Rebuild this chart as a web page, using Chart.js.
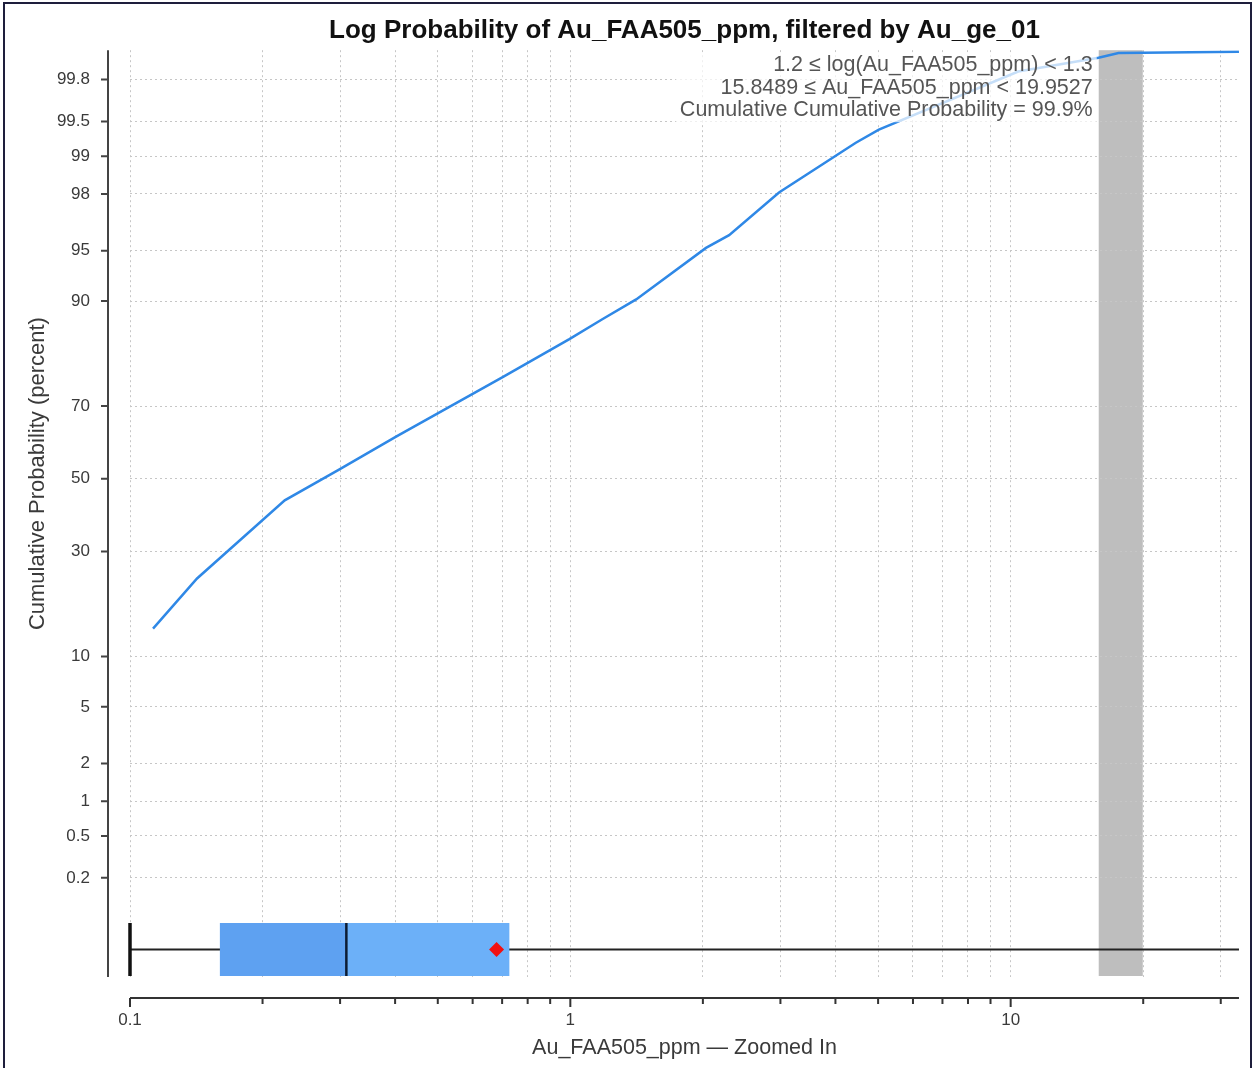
<!DOCTYPE html>
<html>
<head>
<meta charset="utf-8">
<title>Log Probability of Au_FAA505_ppm</title>
<script src="https://cdn.jsdelivr.net/npm/chart.js@4.4.1/dist/chart.umd.min.js"></script>
<style>
  html, body { margin: 0; padding: 0; background: #fff; }
  #wrap { position: relative; width: 1254px; height: 1068px; overflow: hidden; }
  #frame { position: absolute; left: 3px; top: 2px; width: 1245px; height: 1090px; border: 2px solid #1e1e3c; pointer-events: none; }
</style>
</head>
<body>
<div id="wrap">
  <canvas id="chart" width="1254" height="1068"></canvas>
  <div id="frame"></div>
</div>
<script>
// cumulative distribution of Au_FAA505_ppm (ppm vs cumulative percent)
const cdfPpm = [0.1128, 0.142, 0.2246, 0.299, 0.403, 0.702, 0.995, 1.182, 1.411, 2.033, 2.294, 2.978, 4.45, 5.02, 10.4, 15.83, 17.58, 33];
const cdfPercent = [14.0, 23.6, 43.8, 52.7, 62.0, 76.8, 84.3, 87.5, 90.2, 95.2, 96.05, 98.05, 99.23, 99.41, 99.834, 99.88, 99.893, 99.896];

// probability axis labels (percent)
const probTicks = [0.2, 0.5, 1, 2, 5, 10, 30, 50, 70, 90, 95, 98, 99, 99.5, 99.8];
const xTickLabels = [0.1, 1, 10];

// box plot summary (ppm)
const boxStats = { low: 0.1, q1: 0.16, median: 0.31, q3: 0.727, high: 40 };
const boxMean = 0.68;

// highlighted bin
const binLog = [1.2, 1.3];
const binPpm = [15.8489, 19.9527];
const binCumPercent = 99.9;

const FONT = '"Liberation Sans", Arial, sans-serif';
const TEXT = '#3a3a3a';
Chart.defaults.font.family = FONT;

// inverse of the standard normal CDF (Acklam)
function probit(p) {
  const a = [-3.969683028665376e+01, 2.209460984245205e+02, -2.759285104469687e+02, 1.383577518672690e+02, -3.066479806614716e+01, 2.506628277459239e+00];
  const b = [-5.447609879822406e+01, 1.615858368580409e+02, -1.556989798598866e+02, 6.680131188771972e+01, -1.328068155288572e+01];
  const c = [-7.784894002430293e-03, -3.223964580411365e-01, -2.400758277161838e+00, -2.549732539343734e+00, 4.374664141464968e+00, 2.938163982698783e+00];
  const d = [7.784695709041462e-03, 3.224671290700398e-01, 2.445134137142996e+00, 3.754408661907416e+00];
  const plow = 0.02425;
  let q, r;
  if (p < plow) {
    q = Math.sqrt(-2 * Math.log(p));
    return (((((c[0]*q+c[1])*q+c[2])*q+c[3])*q+c[4])*q+c[5]) / ((((d[0]*q+d[1])*q+d[2])*q+d[3])*q+1);
  }
  if (p > 1 - plow) {
    q = Math.sqrt(-2 * Math.log(1 - p));
    return -(((((c[0]*q+c[1])*q+c[2])*q+c[3])*q+c[4])*q+c[5]) / ((((d[0]*q+d[1])*q+d[2])*q+d[3])*q+1);
  }
  q = p - 0.5; r = q * q;
  return (((((a[0]*r+a[1])*r+a[2])*r+a[3])*r+a[4])*r+a[5])*q / (((((b[0]*r+b[1])*r+b[2])*r+b[3])*r+b[4])*r+1);
}

// log grid positions 1..9 per decade
const xGrid = [];
for (let e = -1; e <= 1; e++) {
  for (let k = 1; k <= 9; k++) {
    const v = parseFloat((k * Math.pow(10, e)).toPrecision(2));
    if (v <= 33) xGrid.push(v);
  }
}

const points = cdfPpm.map((x, i) => ({ x: x, y: probit(cdfPercent[i] / 100) }));

// grey bin band behind everything
const binBand = {
  id: 'binBand',
  beforeDraw(chart) {
    const { ctx, chartArea, scales } = chart;
    const x0 = scales.x.getPixelForValue(binPpm[0]);
    const x1 = scales.x.getPixelForValue(binPpm[1]);
    ctx.save();
    ctx.fillStyle = '#bebebe';
    ctx.fillRect(x0, chartArea.top, x1 - x0, chartArea.bottom - chartArea.top - 1);
    ctx.restore();
  }
};

// bin readout over the curve
const binLabel = {
  id: 'binLabel',
  afterDatasetsDraw(chart) {
    const { ctx, chartArea, scales } = chart;
    const lines = [
      binLog[0] + ' \u2264 log(Au_FAA505_ppm) < ' + binLog[1],
      binPpm[0] + ' \u2264 Au_FAA505_ppm < ' + binPpm[1],
      'Cumulative Cumulative Probability = ' + binCumPercent + '%'
    ];
    const right = scales.x.getPixelForValue(binPpm[0]) - 6;
    ctx.save();
    ctx.font = '21.5px ' + FONT;
    const w = Math.max(...lines.map(l => ctx.measureText(l).width));
    ctx.fillStyle = 'rgba(255,255,255,0.72)';
    ctx.fillRect(right - w - 4, chartArea.top + 2, w + 8, 70);
    ctx.fillStyle = '#555';
    ctx.textAlign = 'right';
    ctx.textBaseline = 'middle';
    lines.forEach((l, i) => ctx.fillText(l, right, chartArea.top + 15 + i * 22.5));
    ctx.restore();
  }
};

// box plot strip under the curve
const boxStrip = {
  id: 'boxStrip',
  afterDatasetsDraw(chart) {
    const { ctx, chartArea, scales } = chart;
    const px = v => scales.x.getPixelForValue(v);
    const top = chartArea.bottom - 54, h = 53, yc = top + h / 2;
    ctx.save();
    ctx.strokeStyle = '#222';
    ctx.lineWidth = 2;
    ctx.beginPath();
    ctx.moveTo(px(boxStats.low), yc);
    ctx.lineTo(Math.min(px(boxStats.high), chartArea.right), yc);
    ctx.stroke();
    ctx.lineWidth = 3.5;
    ctx.strokeStyle = '#111';
    ctx.beginPath();
    ctx.moveTo(px(boxStats.low), top);
    ctx.lineTo(px(boxStats.low), top + h);
    ctx.stroke();
    ctx.fillStyle = '#5ea1f1';
    ctx.fillRect(px(boxStats.q1), top, px(boxStats.median) - px(boxStats.q1), h);
    ctx.fillStyle = '#6cb0f8';
    ctx.fillRect(px(boxStats.median), top, px(boxStats.q3) - px(boxStats.median), h);
    ctx.lineWidth = 2.5;
    ctx.strokeStyle = '#0c1c33';
    ctx.beginPath();
    ctx.moveTo(px(boxStats.median), top);
    ctx.lineTo(px(boxStats.median), top + h);
    ctx.stroke();
    const mx = px(boxMean), r = 7.5;
    ctx.fillStyle = '#f21010';
    ctx.beginPath();
    ctx.moveTo(mx, yc - r); ctx.lineTo(mx + r, yc); ctx.lineTo(mx, yc + r); ctx.lineTo(mx - r, yc);
    ctx.closePath();
    ctx.fill();
    ctx.restore();
  }
};

// detached axis lines with tick marks, and the y title
const axisLines = {
  id: 'axisLines',
  afterDraw(chart) {
    const { ctx, chartArea, scales } = chart;
    const ax = chartArea.left - 22, ay = chartArea.bottom + 21;
    ctx.save();
    ctx.strokeStyle = '#444';
    ctx.lineWidth = 2;
    ctx.beginPath();
    ctx.moveTo(ax, chartArea.top); ctx.lineTo(ax, chartArea.bottom);
    scales.y.ticks.forEach(t => {
      const y = scales.y.getPixelForValue(t.value);
      ctx.moveTo(ax - 7, y); ctx.lineTo(ax, y);
    });
    ctx.stroke();
    ctx.strokeStyle = '#333';
    ctx.beginPath();
    ctx.moveTo(chartArea.left, ay); ctx.lineTo(chartArea.right, ay);
    xGrid.forEach(v => {
      const x = scales.x.getPixelForValue(v);
      ctx.moveTo(x, ay); ctx.lineTo(x, ay + (xTickLabels.includes(v) ? 9 : 6));
    });
    ctx.stroke();
    ctx.translate(38, (chartArea.top + chartArea.bottom) / 2 - 40);
    ctx.rotate(-Math.PI / 2);
    ctx.font = '22px ' + FONT;
    ctx.fillStyle = TEXT;
    ctx.textAlign = 'center';
    ctx.textBaseline = 'middle';
    ctx.fillText('Cumulative Probability (percent)', 0, 0);
    ctx.restore();
  }
};

new Chart(document.getElementById('chart'), {
  type: 'line',
  data: {
    datasets: [{
      data: points,
      borderColor: '#2f88e6',
      borderWidth: 2.5,
      pointRadius: 0,
      tension: 0,
      fill: false
    }]
  },
  options: {
    responsive: false,
    animation: false,
    layout: { padding: { left: 8, right: 13, top: 0, bottom: 0 } },
    plugins: {
      legend: { display: false },
      tooltip: { enabled: false },
      title: {
        display: true,
        fullSize: false,
        text: 'Log Probability of Au_FAA505_ppm, filtered by Au_ge_01',
        color: '#111',
        font: { size: 26, weight: 'bold' },
        padding: { top: 15, bottom: 4 }
      }
    },
    scales: {
      x: {
        type: 'logarithmic',
        min: 0.1,
        max: 33,
        afterBuildTicks(scale) { scale.ticks = xGrid.map(v => ({ value: v })); },
        afterFit(scale) { scale.height = 91; },
        ticks: {
          autoSkip: false,
          maxRotation: 0,
          padding: 33,
          color: TEXT,
          font: { size: 17 },
          callback: v => (xTickLabels.includes(v) ? String(v) : '')
        },
        grid: { color: '#c6c6c6', lineWidth: 1, drawTicks: false },
        border: { display: false, dash: [2, 3] },
        title: {
          display: true,
          text: 'Au_FAA505_ppm \u2014 Zoomed In',
          color: TEXT,
          font: { size: 21.5 },
          padding: { top: 0, bottom: 7 }
        }
      },
      y: {
        type: 'linear',
        min: -3.593,
        max: probit(0.999),
        afterBuildTicks(scale) { scale.ticks = probTicks.map(p => ({ value: probit(p / 100) })); },
        afterFit(scale) { scale.width = 122; },
        ticks: {
          autoSkip: false,
          padding: 40,
          color: TEXT,
          font: { size: 17 },
          callback: (v, i) => String(probTicks[i])
        },
        grid: { color: '#c6c6c6', lineWidth: 1, drawTicks: false },
        border: { display: false, dash: [2, 3] }
      }
    }
  },
  plugins: [binBand, binLabel, boxStrip, axisLines]
});
</script>
</body>
</html>
